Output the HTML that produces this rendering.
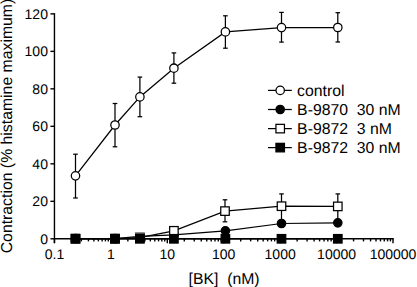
<!DOCTYPE html>
<html><head><meta charset="utf-8"><style>
html,body{margin:0;padding:0;background:#fff;width:417px;height:287px;overflow:hidden}
svg{display:block}
text{font-family:"Liberation Sans",sans-serif;fill:#000;text-rendering:geometricPrecision}
</style></head><body>
<svg width="417" height="287" viewBox="0 0 417 287">
<g stroke="#000" stroke-width="1.4" fill="none">
<line x1="54.45" y1="13.160000000000014" x2="54.45" y2="243.20000000000002" />
<line x1="53.75" y1="238.8" x2="393.69999999999993" y2="238.8" />
<line x1="50.45" y1="238.80" x2="54.45" y2="238.80" />
<line x1="50.45" y1="201.31" x2="54.45" y2="201.31" />
<line x1="50.45" y1="163.82" x2="54.45" y2="163.82" />
<line x1="50.45" y1="126.33" x2="54.45" y2="126.33" />
<line x1="50.45" y1="88.84" x2="54.45" y2="88.84" />
<line x1="50.45" y1="51.35" x2="54.45" y2="51.35" />
<line x1="50.45" y1="13.86" x2="54.45" y2="13.86" />
<line x1="54.45" y1="238.8" x2="54.45" y2="243.20000000000002" />
<line x1="71.44" y1="238.8" x2="71.44" y2="241.4" />
<line x1="81.37" y1="238.8" x2="81.37" y2="241.4" />
<line x1="88.42" y1="238.8" x2="88.42" y2="241.4" />
<line x1="93.89" y1="238.8" x2="93.89" y2="241.4" />
<line x1="98.36" y1="238.8" x2="98.36" y2="241.4" />
<line x1="102.13" y1="238.8" x2="102.13" y2="241.4" />
<line x1="105.41" y1="238.8" x2="105.41" y2="241.4" />
<line x1="108.29" y1="238.8" x2="108.29" y2="241.4" />
<line x1="110.88" y1="238.8" x2="110.88" y2="243.20000000000002" />
<line x1="127.86" y1="238.8" x2="127.86" y2="241.4" />
<line x1="137.80" y1="238.8" x2="137.80" y2="241.4" />
<line x1="144.85" y1="238.8" x2="144.85" y2="241.4" />
<line x1="150.31" y1="238.8" x2="150.31" y2="241.4" />
<line x1="154.78" y1="238.8" x2="154.78" y2="241.4" />
<line x1="158.56" y1="238.8" x2="158.56" y2="241.4" />
<line x1="161.83" y1="238.8" x2="161.83" y2="241.4" />
<line x1="164.72" y1="238.8" x2="164.72" y2="241.4" />
<line x1="167.30" y1="238.8" x2="167.30" y2="243.20000000000002" />
<line x1="184.29" y1="238.8" x2="184.29" y2="241.4" />
<line x1="194.22" y1="238.8" x2="194.22" y2="241.4" />
<line x1="201.27" y1="238.8" x2="201.27" y2="241.4" />
<line x1="206.74" y1="238.8" x2="206.74" y2="241.4" />
<line x1="211.21" y1="238.8" x2="211.21" y2="241.4" />
<line x1="214.98" y1="238.8" x2="214.98" y2="241.4" />
<line x1="218.26" y1="238.8" x2="218.26" y2="241.4" />
<line x1="221.14" y1="238.8" x2="221.14" y2="241.4" />
<line x1="223.72" y1="238.8" x2="223.72" y2="243.20000000000002" />
<line x1="240.71" y1="238.8" x2="240.71" y2="241.4" />
<line x1="250.65" y1="238.8" x2="250.65" y2="241.4" />
<line x1="257.70" y1="238.8" x2="257.70" y2="241.4" />
<line x1="263.16" y1="238.8" x2="263.16" y2="241.4" />
<line x1="267.63" y1="238.8" x2="267.63" y2="241.4" />
<line x1="271.41" y1="238.8" x2="271.41" y2="241.4" />
<line x1="274.68" y1="238.8" x2="274.68" y2="241.4" />
<line x1="277.57" y1="238.8" x2="277.57" y2="241.4" />
<line x1="280.15" y1="238.8" x2="280.15" y2="243.20000000000002" />
<line x1="297.14" y1="238.8" x2="297.14" y2="241.4" />
<line x1="307.07" y1="238.8" x2="307.07" y2="241.4" />
<line x1="314.12" y1="238.8" x2="314.12" y2="241.4" />
<line x1="319.59" y1="238.8" x2="319.59" y2="241.4" />
<line x1="324.06" y1="238.8" x2="324.06" y2="241.4" />
<line x1="327.83" y1="238.8" x2="327.83" y2="241.4" />
<line x1="331.11" y1="238.8" x2="331.11" y2="241.4" />
<line x1="333.99" y1="238.8" x2="333.99" y2="241.4" />
<line x1="336.57" y1="238.8" x2="336.57" y2="243.20000000000002" />
<line x1="353.56" y1="238.8" x2="353.56" y2="241.4" />
<line x1="363.50" y1="238.8" x2="363.50" y2="241.4" />
<line x1="370.55" y1="238.8" x2="370.55" y2="241.4" />
<line x1="376.01" y1="238.8" x2="376.01" y2="241.4" />
<line x1="380.48" y1="238.8" x2="380.48" y2="241.4" />
<line x1="384.26" y1="238.8" x2="384.26" y2="241.4" />
<line x1="387.53" y1="238.8" x2="387.53" y2="241.4" />
<line x1="390.42" y1="238.8" x2="390.42" y2="241.4" />
<line x1="393.00" y1="238.8" x2="393.00" y2="243.20000000000002" />
</g>
<g stroke="#000" stroke-width="1.25">
<polyline points="75.50,238.60 115.00,238.60 139.90,236.30 173.90,234.90 225.40,230.80 281.50,223.50 337.80,222.80" fill="none"/>
<polyline points="75.50,238.60 115.00,238.60 139.90,237.60 173.90,230.80 225.00,211.10 281.50,206.20 337.80,206.40" fill="none"/>
<line x1="225.0" y1="199.8" x2="225.0" y2="221.8"/><line x1="222.7" y1="199.8" x2="227.3" y2="199.8"/><line x1="222.7" y1="221.8" x2="227.3" y2="221.8"/>
<line x1="281.5" y1="193.9" x2="281.5" y2="220.5"/><line x1="279.2" y1="193.9" x2="283.8" y2="193.9"/><line x1="279.2" y1="220.5" x2="283.8" y2="220.5"/>
<line x1="337.8" y1="193.9" x2="337.8" y2="220.5"/><line x1="335.5" y1="193.9" x2="340.1" y2="193.9"/><line x1="335.5" y1="220.5" x2="340.1" y2="220.5"/>
<circle cx="75.5" cy="238.6" r="4.2" fill="#000"/>
<circle cx="115.0" cy="238.6" r="4.2" fill="#000"/>
<circle cx="173.9" cy="234.9" r="4.2" fill="#000"/>
<circle cx="225.4" cy="230.8" r="4.2" fill="#000"/>
<circle cx="281.5" cy="223.5" r="4.2" fill="#000"/>
<circle cx="337.8" cy="222.8" r="4.2" fill="#000"/>
<rect x="71.25" y="234.35" width="8.5" height="8.5" fill="#fff"/>
<rect x="110.75" y="234.35" width="8.5" height="8.5" fill="#fff"/>
<rect x="135.65" y="233.35" width="8.5" height="8.5" fill="#fff"/>
<rect x="169.65" y="226.55" width="8.5" height="8.5" fill="#fff"/>
<rect x="220.75" y="206.85" width="8.5" height="8.5" fill="#fff"/>
<rect x="277.25" y="201.95" width="8.5" height="8.5" fill="#fff"/>
<rect x="333.55" y="202.15" width="8.5" height="8.5" fill="#fff"/>
<rect x="134.95" y="232.6" width="9.9" height="2" fill="#555" stroke="none"/>
<polyline points="75.50,238.80 115.00,238.80 139.90,238.80 173.90,238.80 225.40,238.80 281.50,238.80 337.80,238.80" fill="none"/>
<rect x="71.25" y="234.55" width="8.5" height="8.5" fill="#000"/>
<rect x="110.75" y="234.55" width="8.5" height="8.5" fill="#000"/>
<rect x="135.65" y="234.55" width="8.5" height="8.5" fill="#000"/>
<rect x="169.65" y="234.55" width="8.5" height="8.5" fill="#000"/>
<rect x="221.15" y="234.55" width="8.5" height="8.5" fill="#000"/>
<rect x="277.25" y="234.55" width="8.5" height="8.5" fill="#000"/>
<rect x="333.55" y="234.55" width="8.5" height="8.5" fill="#000"/>
<polyline points="75.50,175.80 115.00,125.00 139.90,96.90 173.90,68.20 225.40,31.90 281.50,27.60 337.80,27.50" fill="none"/>
<line x1="75.5" y1="154.2" x2="75.5" y2="198.0"/><line x1="73.2" y1="154.2" x2="77.8" y2="154.2"/><line x1="73.2" y1="198.0" x2="77.8" y2="198.0"/>
<line x1="115.0" y1="103.5" x2="115.0" y2="146.8"/><line x1="112.7" y1="103.5" x2="117.3" y2="103.5"/><line x1="112.7" y1="146.8" x2="117.3" y2="146.8"/>
<line x1="139.9" y1="77.1" x2="139.9" y2="116.7"/><line x1="137.6" y1="77.1" x2="142.20000000000002" y2="77.1"/><line x1="137.6" y1="116.7" x2="142.20000000000002" y2="116.7"/>
<line x1="173.9" y1="52.9" x2="173.9" y2="83.2"/><line x1="171.6" y1="52.9" x2="176.20000000000002" y2="52.9"/><line x1="171.6" y1="83.2" x2="176.20000000000002" y2="83.2"/>
<line x1="225.4" y1="15.8" x2="225.4" y2="48.2"/><line x1="223.1" y1="15.8" x2="227.70000000000002" y2="15.8"/><line x1="223.1" y1="48.2" x2="227.70000000000002" y2="48.2"/>
<line x1="281.5" y1="12.4" x2="281.5" y2="42.1"/><line x1="279.2" y1="12.4" x2="283.8" y2="12.4"/><line x1="279.2" y1="42.1" x2="283.8" y2="42.1"/>
<line x1="337.8" y1="12.7" x2="337.8" y2="42.0"/><line x1="335.5" y1="12.7" x2="340.1" y2="12.7"/><line x1="335.5" y1="42.0" x2="340.1" y2="42.0"/>
<circle cx="75.5" cy="175.8" r="4.2" fill="#fff"/>
<circle cx="115.0" cy="125.0" r="4.2" fill="#fff"/>
<circle cx="139.9" cy="96.9" r="4.2" fill="#fff"/>
<circle cx="173.9" cy="68.2" r="4.2" fill="#fff"/>
<circle cx="225.4" cy="31.9" r="4.2" fill="#fff"/>
<circle cx="281.5" cy="27.6" r="4.2" fill="#fff"/>
<circle cx="337.8" cy="27.5" r="4.2" fill="#fff"/>
<line x1="268.0" y1="90.4" x2="291.8" y2="90.4"/>
<circle cx="280.2" cy="90.4" r="4.2" fill="#fff"/>
<line x1="268.0" y1="109.5" x2="291.8" y2="109.5"/>
<circle cx="280.2" cy="109.5" r="4.2" fill="#000"/>
<line x1="268.0" y1="128.6" x2="291.8" y2="128.6"/>
<rect x="275.95" y="124.35" width="8.5" height="8.5" fill="#fff"/>
<line x1="268.0" y1="147.6" x2="291.8" y2="147.6"/>
<rect x="275.95" y="143.35" width="8.5" height="8.5" fill="#000"/>
</g>
<g>
<text x="47.95" y="243.74" text-anchor="end" font-size="14.0">0</text>
<text x="47.95" y="206.25" text-anchor="end" font-size="14.0">20</text>
<text x="47.95" y="168.76" text-anchor="end" font-size="14.0">40</text>
<text x="47.95" y="131.27" text-anchor="end" font-size="14.0">60</text>
<text x="47.95" y="93.78" text-anchor="end" font-size="14.0">80</text>
<text x="47.95" y="56.29" text-anchor="end" font-size="14.0">100</text>
<text x="47.95" y="18.80" text-anchor="end" font-size="14.0">120</text>
<text x="54.45" y="258.9" text-anchor="middle" font-size="14.0">0.1</text>
<text x="110.88" y="258.9" text-anchor="middle" font-size="14.0">1</text>
<text x="167.30" y="258.9" text-anchor="middle" font-size="14.0">10</text>
<text x="223.72" y="258.9" text-anchor="middle" font-size="14.0">100</text>
<text x="280.15" y="258.9" text-anchor="middle" font-size="14.0">1000</text>
<text x="336.57" y="258.9" text-anchor="middle" font-size="14.0">10000</text>
<text x="393.00" y="258.9" text-anchor="middle" font-size="14.0">100000</text>
<text x="297.1" y="96.0" font-size="15.8">control</text>
<text x="297.1" y="115.1" font-size="15.8" xml:space="preserve" style="white-space:pre">B-9870  30 nM</text>
<text x="297.1" y="134.2" font-size="15.8" xml:space="preserve" style="white-space:pre">B-9872  3 nM</text>
<text x="297.1" y="153.2" font-size="15.8" xml:space="preserve" style="white-space:pre">B-9872  30 nM</text>
<text x="188.5" y="284.3" font-size="15.8" xml:space="preserve" style="white-space:pre">[BK]  (nM)</text>
<text transform="translate(11.5,253.3) rotate(-90)" x="0" y="0" font-size="15.8">Contraction (% histamine maximum)</text>
</g>
</svg>
</body></html>
